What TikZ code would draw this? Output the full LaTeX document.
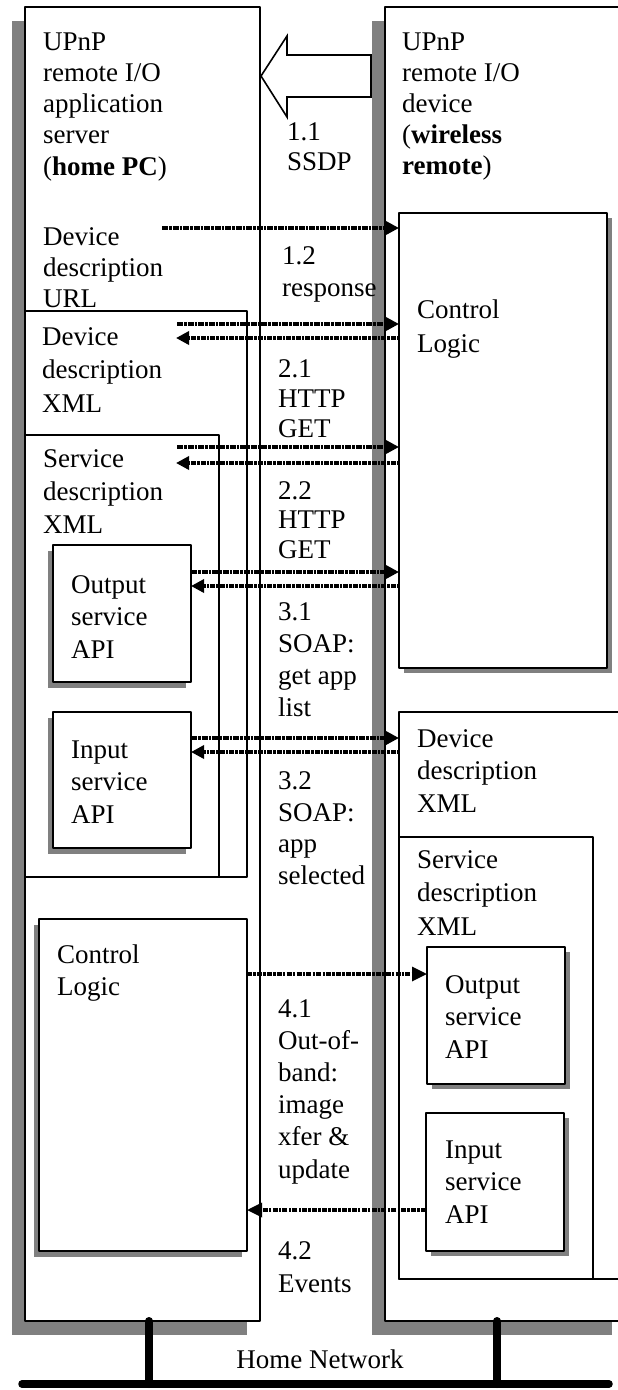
\documentclass[tikz,border=0pt]{standalone}
\usepackage{fontspec}
\setmainfont{Liberation Serif}
\usetikzlibrary{arrows.meta,shadows}
\begin{document}
\begin{tikzpicture}[x=1pt, y=-1pt, line join=round,
	box/.style={draw, line width=1.6pt, fill=white, anchor=north west, inner sep=0pt, outer sep=0pt},
	shdL/.style={drop shadow={shadow xshift=-#1, shadow yshift=-#1, fill=gray, opacity=1}},
	shdR/.style={drop shadow={shadow xshift=#1, shadow yshift=-#1, fill=gray, opacity=1}},
	txt/.style={inner sep=0pt, anchor=base west, align=left, font=\fontsize{27}{31.5}\selectfont},
	boxtxt/.style={txt, font=\fontsize{27}{33}\selectfont},
	req/.style={line width=4pt, dash pattern=on 6pt off 1pt on 2.5pt off 1pt, -{Triangle[length=13pt,width=13pt]}},
	rep/.style={line width=3.6pt, dash pattern=on 2.5pt off 1pt on 5pt off 1pt, -{Triangle[length=13pt,width=13pt]}},
	evt/.style={line width=3.2pt, dash pattern=on 5pt off 1.2pt on 2.5pt off 1.2pt, -{Triangle[length=15pt,width=14pt]}},
	bus/.style={line width=7.5pt, line cap=round}]
	\useasboundingbox (0,0) rectangle (618,1390);
	\clip (0,0) rectangle (618,1390);
	% the two hosts
	\node[box, shdL=13.5pt, minimum width=235pt, minimum height=1314pt] (srv) at (25,7) {};
	\node[box, shdL=13.5pt, minimum width=240pt, minimum height=1314pt] (dev) at (385,7) {};
	% home PC side
	\node[box, minimum width=222pt, minimum height=566pt] (ddxL) at (25,311) {};
	\node[box, minimum width=194pt, minimum height=442pt] (sdxL) at (25,435) {};
	\node[box, shdL=5.5pt, minimum width=138pt, minimum height=137pt] (outL) at (53,545) {};
	\node[box, shdL=5.5pt, minimum width=138pt, minimum height=136pt] (inL) at (53,712) {};
	\node[box, shdL=5.5pt, minimum width=208pt, minimum height=332pt] (ctlL) at (39,919) {};
	% remote side
	\node[box, shdR=5pt, minimum width=208pt, minimum height=455pt] (ctlR) at (399,213) {};
	\node[box, minimum width=226pt, minimum height=567pt] (ddxR) at (399,712) {};
	\node[box, minimum width=194pt, minimum height=442pt] (sdxR) at (399,837) {};
	\node[box, shdR=4.5pt, minimum width=138pt, minimum height=137pt] (outR) at (427,947) {};
	\node[box, shdR=4.5pt, minimum width=138pt, minimum height=138pt] (inR) at (426,1113) {};
	
	% texts sit on the baseline of their last line
	\node[txt, font=\fontsize{27}{31.25}\selectfont] (srvT) at (43,175) {UPnP\\remote I/O\\application\\server\\(\textbf{home PC})};
	\node[txt, font=\fontsize{27}{31}\selectfont] (urlT) at (43,307) {Device\\description\\URL};
	\node[boxtxt, font=\fontsize{27}{33.5}\selectfont] (ddxLT) at (42,412) {Device\\description\\XML};
	\node[boxtxt] (sdxLT) at (43,533) {Service\\description\\XML};
	\node[boxtxt, font=\fontsize{27}{32.5}\selectfont] (outLT) at (71,658) {Output\\service\\API};
	\node[boxtxt, font=\fontsize{27}{32.5}\selectfont] (inLT) at (71,823) {Input\\service\\API};
	\node[boxtxt, font=\fontsize{27}{32}\selectfont] (ctlLT) at (57,995) {Control\\Logic};
	
	\node[txt, font=\fontsize{27}{31}\selectfont] (devT) at (402,174) {UPnP\\remote I/O\\device\\(\textbf{wireless}\\\textbf{remote})};
	\node[boxtxt, font=\fontsize{27}{34}\selectfont] (ctlRT) at (417,352) {Control\\Logic};
	\node[boxtxt, font=\fontsize{27}{32.5}\selectfont] (ddxRT) at (417,812) {Device\\description\\XML};
	\node[boxtxt, font=\fontsize{27}{33.5}\selectfont] (sdxRT) at (417,935) {Service\\description\\XML};
	\node[boxtxt, font=\fontsize{27}{32.5}\selectfont] (outRT) at (445,1058) {Output\\service\\API};
	\node[boxtxt, font=\fontsize{27}{32.5}\selectfont] (inRT) at (445,1223) {Input\\service\\API};
	
	% message labels
	\node[txt, font=\fontsize{27}{30}\selectfont] (m11) at (287,170) {1.1\\SSDP};
	\node[txt] (m12) at (282,296) {1.2\\response};
	\node[txt, font=\fontsize{27}{30}\selectfont] (m21) at (278,437) {2.1\\HTTP\\GET};
	\node[txt, font=\fontsize{27}{29.5}\selectfont] (m22) at (278,558) {2.2\\HTTP\\GET};
	\node[txt, font=\fontsize{27}{32}\selectfont] (m31) at (278,716) {3.1\\SOAP:\\get app\\list};
	\node[txt] (m32) at (278,884) {3.2\\SOAP:\\app\\selected};
	\node[txt, font=\fontsize{27}{32.2}\selectfont] (m41) at (278,1178) {4.1\\Out-of-\\band:\\image\\xfer \&\\update};
	\node[txt, font=\fontsize{27}{33}\selectfont] (m42) at (278,1292) {4.2\\Events};
	
	% SSDP announcement
	\draw[line width=1.6pt, fill=white, line join=miter] (261,76) -- (287,36) -- (287,55) -- (371,55)
		-- (371,97) -- (287,97) -- (287,117) -- cycle;
	
	% messages
	\coordinate (a12) at (162,228);
	\draw[req] (a12) -- (ctlR.west |- a12);
	\coordinate (a21) at (177,324);
	\coordinate (b21) at (176,338);
	\draw[req] (a21) -- (ctlR.west |- a21);
	\draw[rep] (ctlR.west |- b21) -- (b21);
	\coordinate (a22) at (177,447);
	\coordinate (b22) at (176,463);
	\draw[req] (a22) -- (ctlR.west |- a22);
	\draw[rep] (ctlR.west |- b22) -- (b22);
	\draw[req] (outL.east |- 0,572) -- (ctlR.west |- 0,572);
	\draw[rep] (ctlR.west |- 0,586) -- (outL.east |- 0,586);
	\draw[req] (inL.east |- 0,738) -- (ddxR.west |- 0,738);
	\draw[rep] (ddxR.west |- 0,752) -- (inL.east |- 0,752);
	\draw[evt] (ctlL.east |- 0,974) -- (outR.west |- 0,974);
	\draw[evt] (inR.west |- 0,1210) -- (ctlL.east |- 0,1210);
	
	% home network
	\coordinate (busL) at (22,1384);
	\coordinate (busR) at (609,1384);
	\draw[bus] (busL) -- (busR);
	\draw[bus, line width=8pt] (srv.south -| 149,0) -- (149,1384);
	\draw[bus, line width=8pt] (dev.south -| 497,0) -- (497,1384);
	\node[txt, anchor=base] (netT) at (320,1368) {Home Network};
\end{tikzpicture}
\end{document}
